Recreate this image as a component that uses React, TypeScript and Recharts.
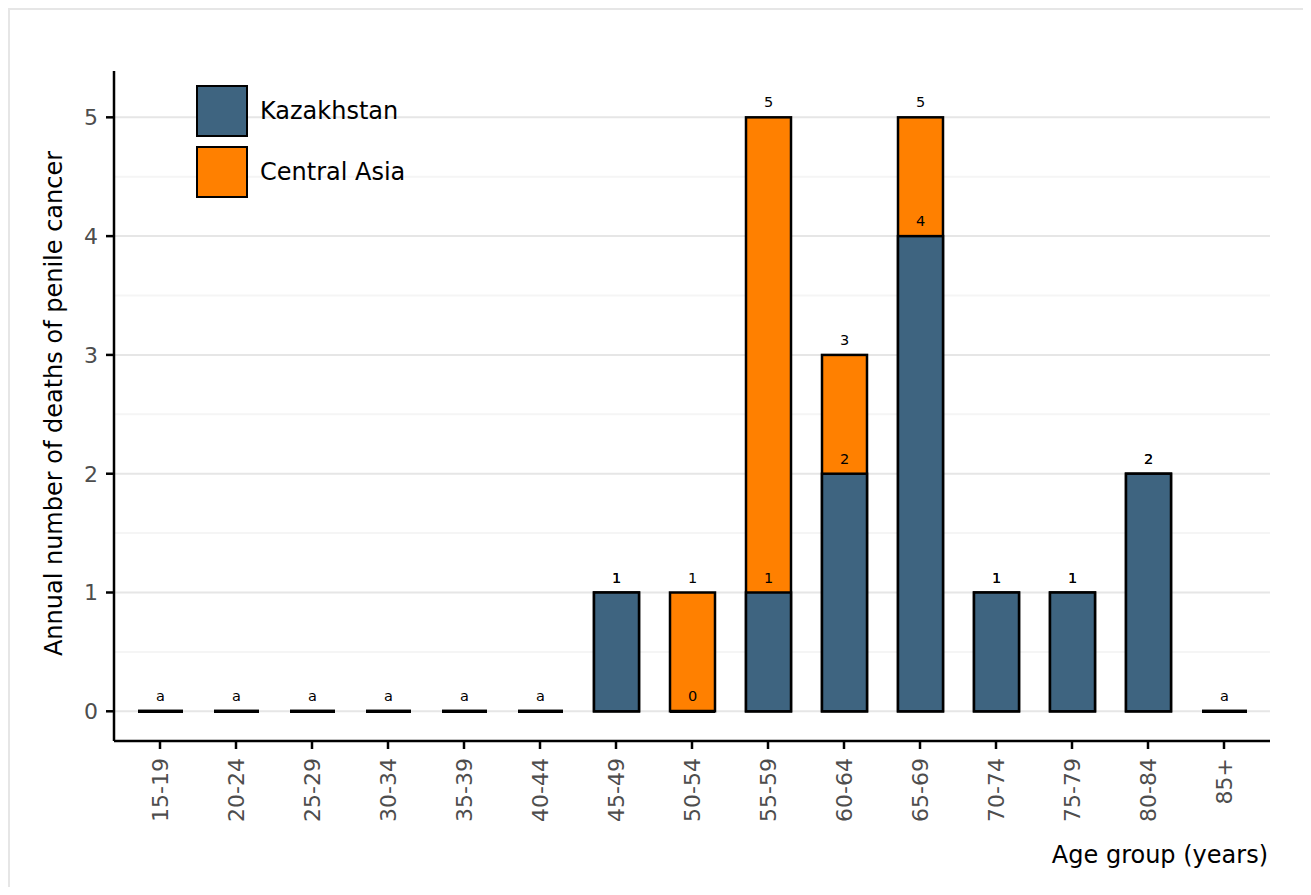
import React from 'react';
import { BarChart, Bar, XAxis, YAxis, CartesianGrid, LabelList } from 'recharts';

const categories = ['15-19', '20-24', '25-29', '30-34', '35-39', '40-44', '45-49', '50-54', '55-59', '60-64', '65-69', '70-74', '75-79', '80-84', '85+'];
const kazakhstan = [0, 0, 0, 0, 0, 0, 1, 0, 1, 2, 4, 1, 1, 2, 0];
const centralAsia = [0, 0, 0, 0, 0, 0, 1, 1, 5, 3, 5, 1, 1, 2, 0];
const kazakhstanLabels = ['', '', '', '', '', '', '1', '0', '1', '2', '4', '1', '1', '2', ''];
const centralAsiaLabels = ['a', 'a', 'a', 'a', 'a', 'a', '1', '1', '5', '3', '5', '1', '1', '2', 'a'];
const yTicks = [0, 1, 2, 3, 4, 5];
const yMinorTicks = [0.5, 1.5, 2.5, 3.5, 4.5];
const yDomain: [number, number] = [-0.25, 5.39];
const seriesNames = ['Kazakhstan', 'Central Asia'];
const seriesColors = ['#3e6480', '#ff8000'];

const data = categories.map((c, i) => ({
  category: c,
  kz: kazakhstan[i],
  ca: centralAsia[i],
  kzLabel: kazakhstanLabels[i],
  caLabel: centralAsiaLabels[i],
}));

const FONT = '"DejaVu Sans", sans-serif';
const TICK_FS = 22;

const BarShape = (p: any) => {
  const { x, y, width, height, fill } = p;
  if (!height || Math.abs(height) < 0.01) {
    return <line x1={x} x2={x + width} y1={y} y2={y} stroke="#000" strokeWidth={3.3} />;
  }
  return <rect x={x} y={y} width={width} height={height} fill={fill} stroke="#000" strokeWidth={2.5} />;
};

const XTick = (p: any) => {
  const { x, y, payload } = p;
  return (
    <g transform={`translate(${x},${y})`}>
      <text
        transform="rotate(-90)"
        textAnchor="end"
        dominantBaseline="central"
        x={0}
        y={0}
        fill="#4d4d4d"
        fontSize={TICK_FS}
        fontFamily={FONT}
      >
        {payload.value}
      </text>
    </g>
  );
};

const YLabel = (p: any) => {
  const vb = p.viewBox;
  const cx = vb.x + 7.5;
  const cy = vb.y + vb.height / 2 - 2.5;
  return (
    <text
      x={cx}
      y={cy}
      transform={`rotate(-90, ${cx}, ${cy})`}
      textAnchor="middle"
      fontSize={24}
      fontFamily={FONT}
      fill="#000"
    >
      Annual number of deaths of penile cancer
    </text>
  );
};

const XLabel = (p: any) => {
  const vb = p.viewBox;
  return (
    <text x={vb.x + vb.width - 2} y={vb.y + 122} textAnchor="end" fontSize={24} fontFamily={FONT} fill="#000">
      Age group (years)
    </text>
  );
};

const minorGen = (args: any) => {
  const off = args.offset;
  const sc = args.yAxis && typeof args.yAxis.scale === 'function' ? args.yAxis.scale : null;
  return yMinorTicks.map((v) =>
    sc ? sc(v) : off.top + ((yDomain[1] - v) / (yDomain[1] - yDomain[0])) * off.height
  );
};

export default function App() {
  return (
    <div
      style={{
        width: 1301,
        height: 879,
        boxSizing: 'border-box',
        borderTop: '2px solid #e6e6e6',
        borderLeft: '2px solid #e6e6e6',
        position: 'relative',
        fontFamily: FONT,
        background: '#fff',
      }}
    >
      <BarChart
        width={1299}
        height={877}
        data={data}
        margin={{ top: 61, right: 39, left: 44, bottom: 66 }}
        barSize={45}
        barGap={-45}
      >
        <CartesianGrid
          vertical={false}
          stroke="#f5f5f5"
          strokeWidth={2}
          syncWithTicks
          horizontalCoordinatesGenerator={minorGen}
        />
        <CartesianGrid vertical={false} stroke="#e6e6e6" strokeWidth={2} syncWithTicks />
        <XAxis
          dataKey="category"
          interval={0}
          padding={{ left: 8, right: 8 }}
          height={80}
          tickSize={8}
          tickMargin={9}
          axisLine={{ stroke: '#000', strokeWidth: 2.5 }}
          tickLine={{ stroke: '#000', strokeWidth: 2.5 }}
          tick={<XTick />}
          label={XLabel}
        />
        <YAxis
          type="number"
          domain={yDomain}
          allowDataOverflow
          ticks={yTicks}
          width={60}
          tickSize={8}
          tickMargin={8}
          axisLine={{ stroke: '#000', strokeWidth: 2.5 }}
          tickLine={{ stroke: '#000', strokeWidth: 2.5 }}
          tick={{ fill: '#4d4d4d', fontSize: TICK_FS, fontFamily: FONT }}
          label={YLabel}
        />
        <Bar dataKey="ca" fill={seriesColors[1]} shape={BarShape} isAnimationActive={false}>
          <LabelList dataKey="caLabel" position="top" offset={10} fontSize={14.5} fill="#000" fontFamily={FONT} />
        </Bar>
        <Bar dataKey="kz" fill={seriesColors[0]} shape={BarShape} isAnimationActive={false}>
          <LabelList dataKey="kzLabel" position="top" offset={10} fontSize={14.5} fill="#000" fontFamily={FONT} />
        </Bar>
      </BarChart>
      <div style={{ position: 'absolute', left: 186, top: 75 }}>
        {seriesNames.map((name, i) => (
          <div key={name} style={{ display: 'flex', alignItems: 'center', height: 52, marginBottom: 9 }}>
            <div
              style={{
                width: 52,
                height: 52,
                boxSizing: 'border-box',
                border: '2.5px solid #000',
                background: seriesColors[i],
              }}
            />
            <span style={{ marginLeft: 12, fontSize: 24, color: '#000', fontFamily: FONT }}>{name}</span>
          </div>
        ))}
      </div>
    </div>
  );
}
